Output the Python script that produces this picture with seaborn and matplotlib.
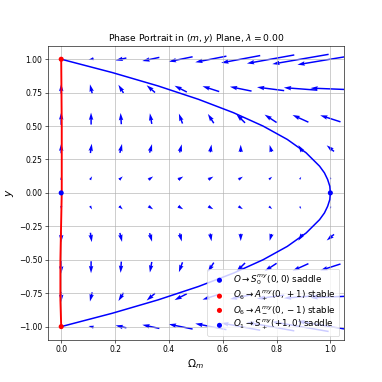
import numpy as np
import matplotlib
matplotlib.use("Agg")
import matplotlib.pyplot as plt
import seaborn as sns

# grid of the direction field (Omega_m across, y down the rows from -1 to +1)
m_grid = [0.0, 0.111, 0.222, 0.333, 0.444, 0.556, 0.667, 0.778, 0.889, 1.0]
y_grid = [-1.0, -0.778, -0.556, -0.333, -0.111, 0.111, 0.333, 0.556, 0.778, 1.0]

# dOmega_m/dN on the grid, one row per y value
u_field = [
    [0, -0.469, -0.988, -1.556, -2.173, -2.840, -3.556, -4.321, -5.136, -6.000],
    [0, -0.206, -0.461, -0.766, -1.119, -1.523, -1.975, -2.477, -3.029, -3.630],
    [0, -0.008, -0.066, -0.173, -0.329, -0.535, -0.790, -1.095, -1.449, -1.852],
    [0, 0.123, 0.198, 0.222, 0.198, 0.123, 0.000, -0.173, -0.395, -0.667],
    [0, 0.189, 0.329, 0.420, 0.461, 0.453, 0.395, 0.288, 0.132, -0.074],
    [0, 0.189, 0.329, 0.420, 0.461, 0.453, 0.395, 0.288, 0.132, -0.074],
    [0, 0.123, 0.198, 0.222, 0.198, 0.123, 0.000, -0.173, -0.395, -0.667],
    [0, -0.008, -0.066, -0.173, -0.329, -0.535, -0.790, -1.095, -1.449, -1.852],
    [0, -0.206, -0.461, -0.766, -1.119, -1.523, -1.975, -2.477, -3.029, -3.630],
    [0, -0.469, -0.988, -1.556, -2.173, -2.840, -3.556, -4.321, -5.136, -6.000],
]
# dy/dN on the grid
v_field = [
    [0, 0.111, 0.222, 0.333, 0.444, 0.556, 0.667, 0.778, 0.889, 1.000],
    [-0.922, -0.835, -0.749, -0.663, -0.576, -0.490, -0.403, -0.317, -0.230, -0.144],
    [-1.152, -1.091, -1.029, -0.967, -0.905, -0.844, -0.782, -0.720, -0.658, -0.597],
    [-0.889, -0.852, -0.815, -0.778, -0.741, -0.704, -0.667, -0.630, -0.593, -0.556],
    [-0.329, -0.317, -0.305, -0.292, -0.280, -0.267, -0.255, -0.243, -0.230, -0.218],
    [0.329, 0.317, 0.305, 0.292, 0.280, 0.267, 0.255, 0.243, 0.230, 0.218],
    [0.889, 0.852, 0.815, 0.778, 0.741, 0.704, 0.667, 0.630, 0.593, 0.556],
    [1.152, 1.091, 1.029, 0.967, 0.905, 0.844, 0.782, 0.720, 0.658, 0.597],
    [0.922, 0.835, 0.749, 0.663, 0.576, 0.490, 0.403, 0.317, 0.230, 0.144],
    [0, -0.111, -0.222, -0.333, -0.444, -0.556, -0.667, -0.778, -0.889, -1.000],
]

# blue trajectory (0,+1) -> (1,0) -> (0,-1)
traj_y = [1.0, 0.9, 0.8, 0.7, 0.6, 0.5, 0.4, 0.3, 0.2, 0.15, 0.1, 0.05, 0.0,
          -0.05, -0.1, -0.15, -0.2, -0.3, -0.4, -0.5, -0.6, -0.7, -0.8, -0.9, -1.0]
traj_m = [0.0, 0.19, 0.36, 0.51, 0.64, 0.75, 0.84, 0.91, 0.96, 0.978, 0.99, 0.998, 1.0,
          0.998, 0.99, 0.978, 0.96, 0.91, 0.84, 0.75, 0.64, 0.51, 0.36, 0.19, 0.0]

# red trajectory along Omega_m ~ 0
red_y = [1.0, 0.5, 0.0, -0.5, -0.8, -1.0]
red_m = [0.0, 0.002, 0.002, -0.003, -0.003, 0.0]

# critical points
cp_m = [0.0, 0.0, 0.0, 1.0]
cp_y = [0.0, 1.0, -1.0, 0.0]
cp_colors = ["blue", "red", "red", "blue"]
cp_labels = [r"$O \to S_0^{my}(0, 0)$ saddle",
             r"$O_6 \to A_+^{my}(0, +1)$ stable",
             r"$O_6 \to A_-^{my}(0, -1)$ stable",
             r"$O_1 \to S_+^{my}(+1, 0)$ saddle"]

fig, ax = plt.subplots(figsize=(7, 7), dpi=382 / 7)

sns.lineplot(x=red_m, y=red_y, sort=False, estimator=None, color="red", lw=2.5, ax=ax)
sns.lineplot(x=traj_m, y=traj_y, sort=False, estimator=None, color="blue", lw=2, ax=ax)

M, Y = np.meshgrid(m_grid, y_grid)
ax.quiver(M, Y, np.array(u_field), np.array(v_field), color="blue", pivot="mid",
          scale=27, scale_units="width", width=0.005)

for i in range(len(cp_m)):
    sns.scatterplot(x=[cp_m[i]], y=[cp_y[i]], color=cp_colors[i], s=45, edgecolor="none",
                    label=cp_labels[i], ax=ax, zorder=5)

ax.set_xlim(-0.05, 1.05)
ax.set_ylim(-1.1, 1.1)
ax.set_title(r"Phase Portrait in $(m, y)$ Plane, $\lambda = 0.00$", fontsize=12)
ax.set_xlabel(r"$\Omega_m$", fontsize=14)
ax.set_ylabel(r"$y$", fontsize=14)
ax.tick_params(labelsize=10)
ax.grid(True)
ax.legend(loc="lower right", fontsize=11.5, labelspacing=0.2, handletextpad=0.6)

plt.savefig("out.png", dpi=382 / 7)
